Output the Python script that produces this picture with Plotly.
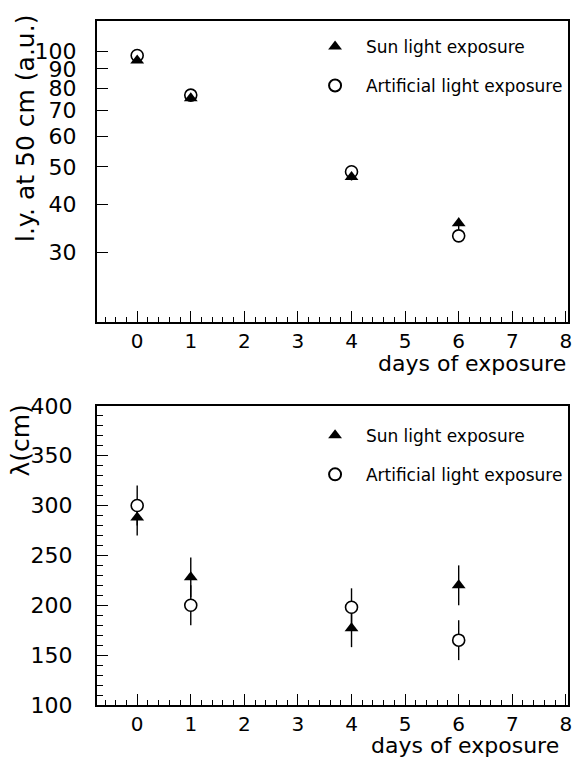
import plotly.graph_objects as go

# ---- data ----
days = [0, 1, 4, 6]
ly_sun = [94.6, 75.5, 47.1, 35.7]
ly_sun_err = [1.0, 1.0, 1.0, 1.2]
ly_art = [97.5, 76.9, 48.6, 33.1]
ly_art_err = [1.0, 1.0, 1.0, 1.2]

lam_sun = [288, 228, 177, 220]
lam_sun_err = [18, 20, 19, 20]
lam_art = [300, 200, 198, 165]
lam_art_err = [20, 20, 19, 20]

ly_ticks = [30, 40, 50, 60, 70, 80, 90, 100]
lam_ticks = [100, 150, 200, 250, 300, 350, 400]
x_ticks = [0, 1, 2, 3, 4, 5, 6, 7, 8]

series_names = ["Sun light exposure", "Artificial light exposure"]

FONT = "DejaVu Sans"
BLACK = "black"
PAD = "\u00a0\u00a0"

fig = go.Figure()

# top panel
fig.add_trace(go.Scatter(
    x=days, y=ly_art, mode="markers", name=PAD + series_names[1],
    xaxis="x", yaxis="y",
    legend="legend", legendgroup="art", legendrank=2,
    marker=dict(symbol="circle", size=12, color="white", line=dict(color=BLACK, width=1.6)),
    error_y=dict(type="data", array=ly_art_err, color=BLACK, thickness=1.4, width=0),
))
fig.add_trace(go.Scatter(
    x=days, y=ly_sun, mode="markers", name=PAD + series_names[0],
    xaxis="x", yaxis="y",
    legend="legend", legendgroup="sun", legendrank=1,
    marker=dict(symbol="triangle-up", size=12, color=BLACK),
    error_y=dict(type="data", array=ly_sun_err, color=BLACK, thickness=1.4, width=0),
))

# bottom panel
fig.add_trace(go.Scatter(
    x=days, y=lam_sun, mode="markers", name=PAD + series_names[0],
    xaxis="x2", yaxis="y2",
    legend="legend2", legendgroup="sun2", legendrank=1,
    marker=dict(symbol="triangle-up", size=12, color=BLACK),
    error_y=dict(type="data", array=lam_sun_err, color=BLACK, thickness=1.4, width=0),
))
fig.add_trace(go.Scatter(
    x=days, y=lam_art, mode="markers", name=PAD + series_names[1],
    xaxis="x2", yaxis="y2",
    legend="legend2", legendgroup="art2", legendrank=2,
    marker=dict(symbol="circle", size=12, color="white", line=dict(color=BLACK, width=1.6)),
    error_y=dict(type="data", array=lam_art_err, color=BLACK, thickness=1.4, width=0),
))

XTICKFONT = dict(family=FONT, size=20, color=BLACK)
YTICKFONT = dict(family=FONT, size=22, color=BLACK)

xaxis_common = dict(
    range=[-0.75, 8.04], tickvals=x_ticks, ticktext=[str(v) for v in x_ticks],
    ticks="inside", ticklen=11, tickwidth=1.4, tickcolor=BLACK,
    minor=dict(dtick=0.2, tick0=0, ticks="inside", ticklen=5, tickwidth=1.2, tickcolor=BLACK),
    showline=True, linecolor=BLACK, linewidth=2, mirror=True,
    showgrid=False, zeroline=False,
    tickfont=XTICKFONT, ticklabelstandoff=0,
)

legend_common = dict(
    xanchor="left", yanchor="top", bgcolor="rgba(0,0,0,0)", borderwidth=0,
    font=dict(family=FONT, size=17, color=BLACK), tracegroupgap=14,
    itemsizing="constant",
)
fig.update_layout(
    width=581, height=763,
    margin=dict(l=97, r=9, t=10, b=58),
    plot_bgcolor="white", paper_bgcolor="white",
    font=dict(family=FONT, color=BLACK),
    xaxis=dict(domain=[0, 1], anchor="y", **xaxis_common),
    xaxis2=dict(domain=[0, 1], anchor="y2", **xaxis_common),
    yaxis=dict(
        domain=[0.5597, 1], anchor="x",
        type="log", range=[1.2954, 2.0786], tickvals=ly_ticks, ticktext=[str(v) for v in ly_ticks],
        ticks="inside", ticklen=11, tickwidth=1.4, tickcolor=BLACK,
        showline=True, linecolor=BLACK, linewidth=2, mirror=True,
        showgrid=False, zeroline=False,
        tickfont=YTICKFONT, ticklabelstandoff=14,
    ),
    yaxis2=dict(
        domain=[0, 0.4374], anchor="x2",
        range=[100, 400], tickvals=lam_ticks, ticktext=[str(v) for v in lam_ticks],
        ticks="inside", ticklen=11, tickwidth=1.4, tickcolor=BLACK,
        minor=dict(dtick=10, tick0=100, ticks="inside", ticklen=6, tickwidth=1.2, tickcolor=BLACK),
        showline=True, linecolor=BLACK, linewidth=2, mirror=True,
        showgrid=False, zeroline=False,
        tickfont=YTICKFONT, ticklabelstandoff=18,
    ),
    legend=dict(x=0.463, y=0.9885, **legend_common),
    legend2=dict(x=0.463, y=0.4200, **legend_common),
    annotations=[
        dict(text="l.y. at 50 cm (a.u.)", textangle=-90, xref="paper", yref="paper",
             x=-0.152, y=1.0115, xanchor="center", yanchor="top", showarrow=False,
             font=dict(family=FONT, size=25, color=BLACK)),
        dict(text="λ(cm)", textangle=-90, xref="paper", yref="paper",
             x=-0.162, y=0.4417, xanchor="center", yanchor="top", showarrow=False,
             font=dict(family=FONT, size=25, color=BLACK)),
        dict(text="days of exposure", xref="paper", yref="paper",
             x=1.0, y=0.5209, xanchor="right", yanchor="top", showarrow=False,
             font=dict(family=FONT, size=22, color=BLACK)),
        dict(text="days of exposure", xref="paper", yref="paper",
             x=0.985, y=-0.0800, xanchor="right", yanchor="bottom", showarrow=False,
             font=dict(family=FONT, size=22, color=BLACK)),
    ],
)

fig.write_html("out.html", config={"displayModeBar": False},
               post_script="document.body.style.margin='0px';")
